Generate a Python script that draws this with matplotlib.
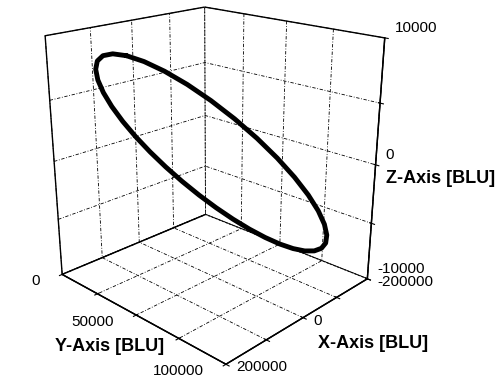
import matplotlib
matplotlib.use("Agg")
import matplotlib.pyplot as plt
from matplotlib.transforms import offset_copy

plt.rcParams['font.family'] = ['Liberation Sans', 'DejaVu Sans']
plt.rcParams['grid.linestyle'] = (0, (4, 2, 1, 2))
plt.rcParams['grid.color'] = 'black'
plt.rcParams['grid.linewidth'] = 0.6

# Ellipse path (BLU), sampled every 10 degrees
ex = [200000, 196962, 187939, 173205, 153209, 128558, 100000, 68404, 34730, 0,
      -34730, -68404, -100000, -128558, -153209, -173205, -187939, -196962, -200000,
      -196962, -187939, -173205, -153209, -128558, -100000, -68404, -34730, 0,
      34730, 68404, 100000, 128558, 153209, 173205, 187939, 196962, 200000]
ey = [50000, 58682, 67101, 75000, 82139, 88302, 93301, 96985, 99240, 100000,
      99240, 96985, 93301, 88302, 82139, 75000, 67101, 58682, 50000,
      41318, 32899, 25000, 17861, 11698, 6699, 3015, 760, 0,
      760, 3015, 6699, 11698, 17861, 25000, 32899, 41318, 50000]
ez = [10000, 9848, 9397, 8660, 7660, 6428, 5000, 3420, 1736, 0,
      -1736, -3420, -5000, -6428, -7660, -8660, -9397, -9848, -10000,
      -9848, -9397, -8660, -7660, -6428, -5000, -3420, -1736, 0,
      1736, 3420, 5000, 6428, 7660, 8660, 9397, 9848, 10000]

x_ticks = [-200000, -100000, 0, 100000, 200000]
x_labels = ['-200000', '', '0', '', '200000']
y_ticks = [0, 25000, 50000, 75000, 100000]
y_labels = ['0', '', '50000', '', '100000']
z_ticks = [-10000, -5000, 0, 5000, 10000]
z_labels = ['-10000', '', '0', '', '10000']

fig = plt.figure(figsize=(4.97, 3.87), dpi=100)
ax = fig.add_axes([-0.08, 0.065, 1, 1], projection='3d')
ax.plot(ex, ey, ez, color='black', lw=3.5, solid_capstyle='round', solid_joinstyle='round')
ax.set_xlim(x_ticks[0], x_ticks[-1])
ax.set_ylim(y_ticks[0], y_ticks[-1])
ax.set_zlim(z_ticks[0], z_ticks[-1])
ax.set_proj_type('persp', focal_length=0.4)
ax.set_box_aspect((1, 1.1, 1.18), zoom=1.03)
ax.view_init(elev=20.5, azim=44)
ax.set_xticks(x_ticks, [''] * len(x_ticks))
ax.set_yticks(y_ticks, [''] * len(y_ticks))
ax.set_zticks(z_ticks, [''] * len(z_ticks))
ax.zaxis.set_ticks_position('upper')
for a in (ax.xaxis, ax.yaxis, ax.zaxis):
    a.set_pane_color((1, 1, 1, 1))
    a.pane.set_edgecolor('black')
    a.pane.set_linewidth(1.0)
    a.line.set_color('black')
    a.line.set_linewidth(1.0)

fs = 11
tz = offset_copy(ax.transData, fig=fig, x=10, y=10, units='dots')
for v, s in zip(z_ticks, z_labels):
    if s:
        ax.text(x_ticks[0], y_ticks[-1], v, s, transform=tz, ha='left', va='center', fontsize=fs)
tx = offset_copy(ax.transData, fig=fig, x=10, y=-3, units='dots')
for v, s in zip(x_ticks, x_labels):
    if s:
        ax.text(v, y_ticks[-1], z_ticks[0], s, transform=tx, ha='left', va='center', fontsize=fs)
ty = offset_copy(ax.transData, fig=fig, x=-22, y=-7, units='dots')
for v, s in zip(y_ticks, y_labels):
    if s:
        ax.text(x_ticks[-1], v, z_ticks[0], s, transform=ty, ha='right', va='center', fontsize=fs)

# axis titles, anchored next to the middle ticks
ax.text(x_ticks[0], y_ticks[-1], 0, 'Z-Axis [BLU]', fontsize=13, fontweight='bold',
        ha='left', va='center', transform=offset_copy(ax.transData, fig=fig, x=10, y=-14, units='dots'))
ax.text(0, y_ticks[-1], z_ticks[0], 'X-Axis [BLU]', fontsize=13, fontweight='bold',
        ha='center', va='center', transform=offset_copy(ax.transData, fig=fig, x=70, y=-26, units='dots'))
ax.text(x_ticks[-1], 50000, z_ticks[0], 'Y-Axis [BLU]', fontsize=13, fontweight='bold',
        ha='center', va='center', transform=offset_copy(ax.transData, fig=fig, x=-27, y=-31, units='dots'))

fig.savefig('out.png', dpi=100)
